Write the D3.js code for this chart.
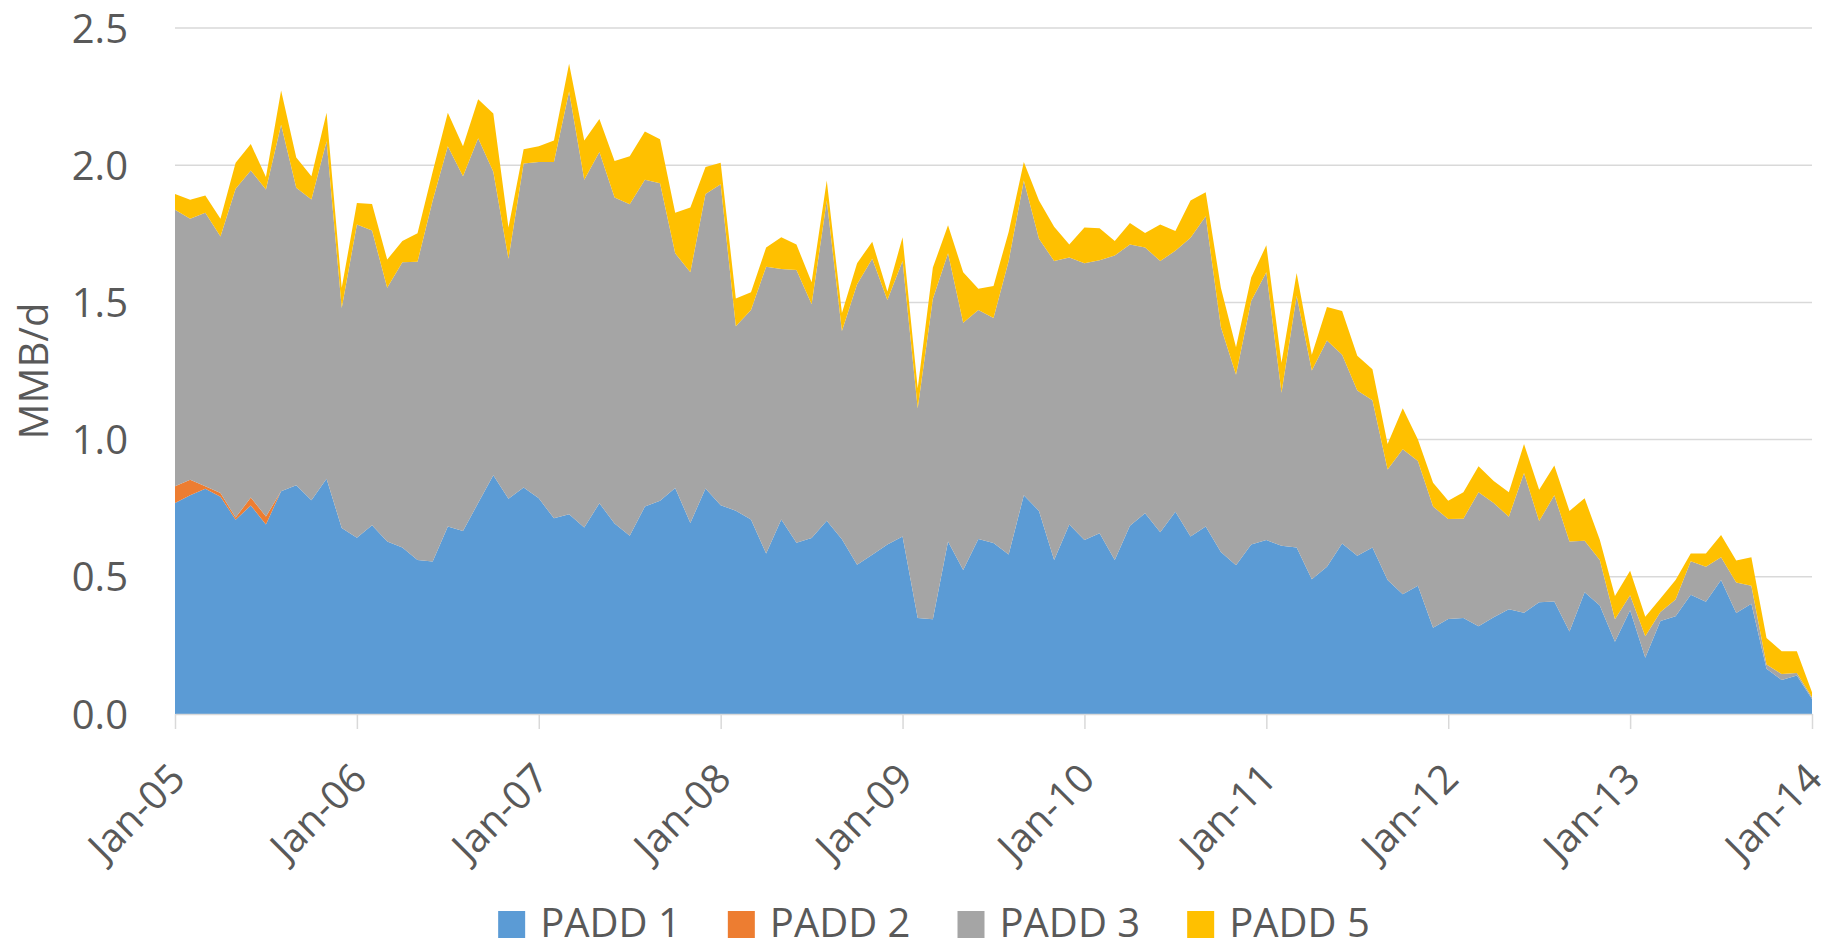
<!DOCTYPE html>
<html>
<head>
<meta charset="utf-8">
<script src="https://cdn.jsdelivr.net/npm/d3@7"></script>
<style>
  body { margin: 0; background: #fff; }
  text { font-family: "Open Sans", Lato, sans-serif; fill: #595959; }
</style>
</head>
<body>
<script>
// monthly values, Jan-05 .. Jan-14 (MMB/d)
const seriesNames = ["PADD 1", "PADD 2", "PADD 3", "PADD 5"];
const seriesColors = ["#5b9bd5", "#ed7d31", "#a5a5a5", "#ffc000"];
const tickLabels = ["Jan-05", "Jan-06", "Jan-07", "Jan-08", "Jan-09", "Jan-10", "Jan-11", "Jan-12", "Jan-13", "Jan-14"];
const yTicks = [0, 0.5, 1.0, 1.5, 2.0, 2.5];

const padd1 = [
  .769, .797, .821, .792, .708, .760, .691, .812, .834, .779, .857, .678,
  .642, .688, .629, .607, .561, .556, .683, .667, .769, .870, .784, .825,
  .786, .713, .728, .680, .768, .694, .650, .756, .777, .824, .696, .822,
  .761, .741, .709, .585, .709, .624, .641, .704, .637, .544, .580, .618,
  .647, .350, .345, .629, .525, .638, .623, .581, .797, .740, .561, .691,
  .634, .659, .561, .686, .732, .662, .737, .647, .683, .590, .542, .618,
  .634, .613, .607, .491, .537, .621, .577, .607, .488, .436, .467, .314,
  .346, .350, .320, .353, .382, .369, .407, .410, .301, .444, .395, .263,
  .378, .205, .339, .356, .435, .409, .488, .368, .402, .165, .124, .140,
  .055
];
const padd2 = [
  .061, .057, .009, .013, .008, .029, .029, 0, 0, 0, 0, 0,
  0, 0, 0, 0, 0, 0, 0, 0, 0, 0, 0, 0,
  0, 0, 0, 0, 0, 0, 0, 0, 0, 0, 0, 0,
  0, 0, 0, 0, 0, 0, 0, 0, 0, 0, 0, 0,
  0, 0, 0, 0, 0, 0, 0, 0, 0, 0, 0, 0,
  0, 0, 0, 0, 0, 0, 0, 0, 0, 0, 0, 0,
  0, 0, 0, 0, 0, 0, 0, 0, 0, 0, 0, 0,
  0, 0, 0, 0, 0, 0, 0, 0, 0, 0, 0, 0,
  0, 0, 0, 0, 0, 0, 0, 0, 0, 0, 0, 0,
  0
];
const padd3 = [
  1.008, .951, .997, .935, 1.198, 1.192, 1.191, 1.335, 1.084, 1.096, 1.230, .802,
  1.142, 1.074, .924, 1.039, 1.087, 1.315, 1.386, 1.293, 1.329, 1.106, .875, 1.181,
  1.226, 1.299, 1.541, 1.267, 1.280, 1.188, 1.208, 1.191, 1.157, .855, .914, 1.073,
  1.170, .672, .763, 1.045, .913, .994, .852, 1.167, .759, 1.022, 1.079, .891,
  1.004, .764, 1.168, 1.050, .901, .834, .820, 1.070, 1.147, .992, 1.090, .973,
  1.009, .995, 1.110, 1.025, .968, .989, .951, 1.089, 1.131, .820, .694, .887,
  .976, .558, .917, .761, .824, .688, .602, .536, .403, .529, .455, .442,
  .365, .362, .488, .416, .337, .509, .296, .387, .328, .187, .166, .082,
  .055, .078, .033, .061, .122, .128, .083, .111, .065, .015, .022, .009,
  .006
];
const padd5 = [
  .057, .069, .063, .065, .095, .096, .046, .125, .110, .085, .104, .073,
  .078, .097, .103, .078, .104, .105, .122, .109, .142, .212, .114, .052,
  .057, .078, .101, .143, .120, .133, .175, .176, .161, .148, .236, .098,
  .078, .101, .065, .070, .115, .093, .080, .073, .065, .077, .062, .031,
  .086, .073, .114, .102, .184, .078, .117, .106, .068, .139, .125, .047,
  .130, .116, .053, .078, .053, .133, .072, .135, .087, .143, .101, .086,
  .098, .109, .083, .057, .122, .160, .127, .113, .093, .149, .078, .087,
  .066, .096, .095, .080, .089, .106, .114, .109, .111, .155, .074, .085,
  .089, .071, .049, .071, .028, .048, .081, .080, .104, .097, .083, .080,
  .018
];

const width = 1833, height = 949;
const fontSize = 40;

const rows = padd1.map((v, i) => ({
  i: i,
  "PADD 1": v,
  "PADD 2": padd2[i],
  "PADD 3": padd3[i],
  "PADD 5": padd5[i]
}));

const svg = d3.select("body").append("svg")
  .attr("width", width)
  .attr("height", height);

const x = d3.scaleLinear().domain([0, padd1.length - 1]).range([175, 1812]);
const y = d3.scaleLinear().domain([0, 2.5]).range([714, 28]);

// gridlines
svg.append("g")
  .selectAll("line")
  .data(yTicks.slice(1))
  .join("line")
  .attr("x1", x.range()[0])
  .attr("x2", x.range()[1])
  .attr("y1", d => y(d))
  .attr("y2", d => y(d))
  .attr("stroke", "#d9d9d9")
  .attr("stroke-width", 1.5);

// stacked areas
const stack = d3.stack().keys(seriesNames);
const layers = stack(rows);

const area = d3.area()
  .x(d => x(d.data.i))
  .y0(d => y(d[0]))
  .y1(d => y(d[1]));

svg.append("g")
  .selectAll("path")
  .data(layers)
  .join("path")
  .attr("fill", (d, i) => seriesColors[i])
  .attr("d", area);

// x axis
const xAxis = d3.axisBottom(x)
  .tickValues(tickLabels.map((d, i) => i * 12))
  .tickFormat((d, i) => tickLabels[i])
  .tickSize(15)
  .tickSizeOuter(0);

const gx = svg.append("g")
  .attr("transform", `translate(0, ${y(0)})`)
  .call(xAxis);

gx.select(".domain").attr("stroke", "#d9d9d9").attr("stroke-width", 1.5);
gx.selectAll(".tick line").attr("stroke", "#d9d9d9").attr("stroke-width", 1.5);
gx.selectAll(".tick text")
  .attr("font-size", fontSize)
  .attr("text-anchor", "end")
  .attr("y", 0)
  .attr("dy", "0.35em")
  .attr("transform", "translate(2, 57) rotate(-45)");

// y axis
const yAxis = d3.axisLeft(y)
  .tickValues(yTicks)
  .tickFormat(d3.format(".1f"))
  .tickSize(0)
  .tickPadding(0);

const gy = svg.append("g")
  .attr("transform", "translate(128, 0)")
  .call(yAxis);
gy.select(".domain").remove();
gy.selectAll(".tick text").attr("font-size", fontSize).attr("dy", "0.35em");

// axis title
svg.append("text")
  .attr("transform", `translate(48, ${(y(0) + y(2.5)) / 2}) rotate(-90)`)
  .attr("text-anchor", "middle")
  .attr("font-size", fontSize)
  .text("MMB/d");

// legend
const legend = svg.append("g");
const items = legend.selectAll("g")
  .data(seriesNames)
  .join("g");

items.append("rect")
  .attr("width", 27)
  .attr("height", 27)
  .attr("y", -26)
  .attr("fill", (d, i) => seriesColors[i]);

items.append("text")
  .attr("x", 42)
  .attr("font-size", fontSize)
  .text(d => d);

let offset = 0;
items.each(function () {
  const w = d3.select(this).select("text").node().getComputedTextLength();
  d3.select(this).attr("transform", `translate(${offset}, 0)`);
  offset += 42 + w + 47;
});
const legendWidth = offset - 47;
legend.attr("transform", `translate(${934 - legendWidth / 2}, 937)`);
</script>
</body>
</html>
